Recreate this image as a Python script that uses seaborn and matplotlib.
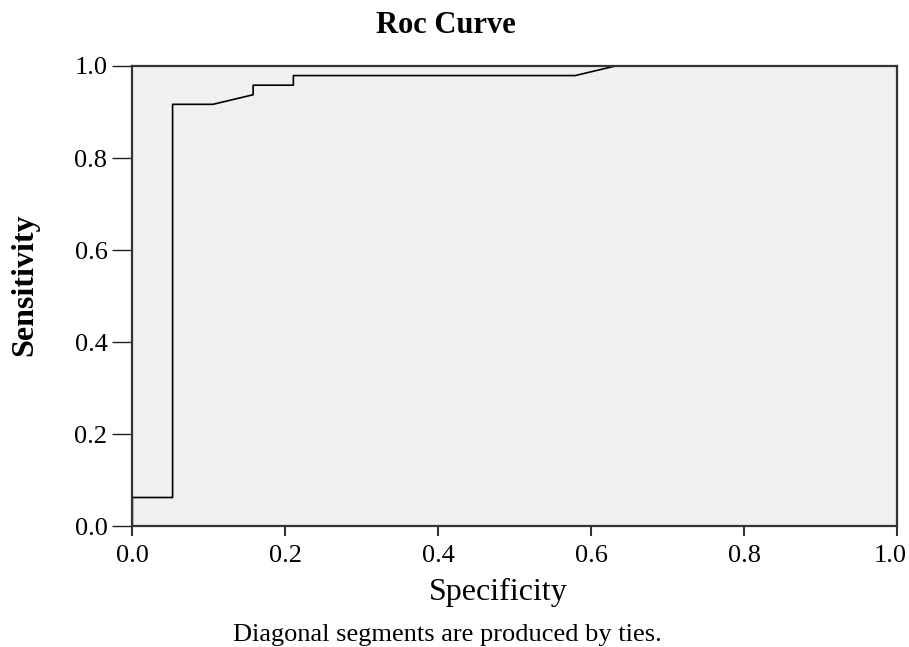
import pandas as pd
import matplotlib
matplotlib.use("Agg")
import matplotlib.pyplot as plt
import matplotlib.transforms as mtransforms
import seaborn as sns

# -------------------- DATOS --------------------
# puntos de la curva ROC
spec = [0.0, 0.0, 0.0526, 0.0526, 0.1053, 0.1579, 0.1579, 0.2105, 0.2105, 0.5789, 0.6316, 1.0]
sens = [0.0, 0.0625, 0.0625, 0.9167, 0.9167, 0.9375, 0.9583, 0.9583, 0.9792, 0.9792, 1.0, 1.0]
ticks = [0.0, 0.2, 0.4, 0.6, 0.8, 1.0]
tick_labels = ["0.0", "0.2", "0.4", "0.6", "0.8", "1.0"]

df = pd.DataFrame({"spec": spec, "sens": sens})

# -------------------- ESTILO --------------------
sns.set_style("white")
plt.rcParams["font.family"] = ["Liberation Serif", "DejaVu Serif"]
plt.rcParams["text.color"] = "black"
plt.rcParams["xtick.color"] = "black"
plt.rcParams["ytick.color"] = "black"

fig = plt.figure(figsize=(9.09, 6.47), dpi=100)
ax = fig.add_axes([0.1456, 0.1866, 0.8415, 0.7114])
ax.set_facecolor("#f0f0f0")

sns.lineplot(data=df, x="spec", y="sens", sort=False, estimator=None,
             color="black", linewidth=1.2, ax=ax)

ax.set_xlim(0, 1)
ax.set_ylim(0, 1)
ax.set_xticks(ticks)
ax.set_xticklabels(tick_labels)
ax.set_yticks(ticks)
ax.set_yticklabels(tick_labels)
ax.tick_params(axis="y", left=True, length=14.4, width=1.0, pad=3.5, labelsize=19,
               color="#222222", labelcolor="black")
ax.tick_params(axis="x", bottom=True, length=7.5, width=1.5, pad=6, labelsize=19,
               color="#333333", labelcolor="black")
ax.set_xlabel("")
ax.set_ylabel("")
for s in ax.spines.values():
    s.set_color("#333333")
    s.set_linewidth(1.6)
    s.set_visible(True)

# la ultima etiqueta del eje x se corre un poco para que quepa
last = ax.get_xticklabels()[-1]
last.set_transform(last.get_transform() + mtransforms.ScaledTranslation(-7 / 100, 0, fig.dpi_scale_trans))

# -------------------- TEXTOS --------------------
fig.text(445.5 / 909, 1 - 33 / 647, "Roc Curve", ha="center", va="baseline",
         fontsize=22, fontweight="bold")
fig.text(25 / 909, 1 - 285 / 647, "Sensitivity", ha="center", va="center",
         rotation=90, fontsize=23, fontweight="bold")
fig.text(498.5 / 909, 1 - 600 / 647, "Specificity", ha="center", va="baseline",
         fontsize=23)
fig.text(447 / 909, 1 - 640.5 / 647, "Diagonal segments are produced by ties.",
         ha="center", va="baseline", fontsize=19)

plt.savefig("out.png", dpi=100)
plt.close()
